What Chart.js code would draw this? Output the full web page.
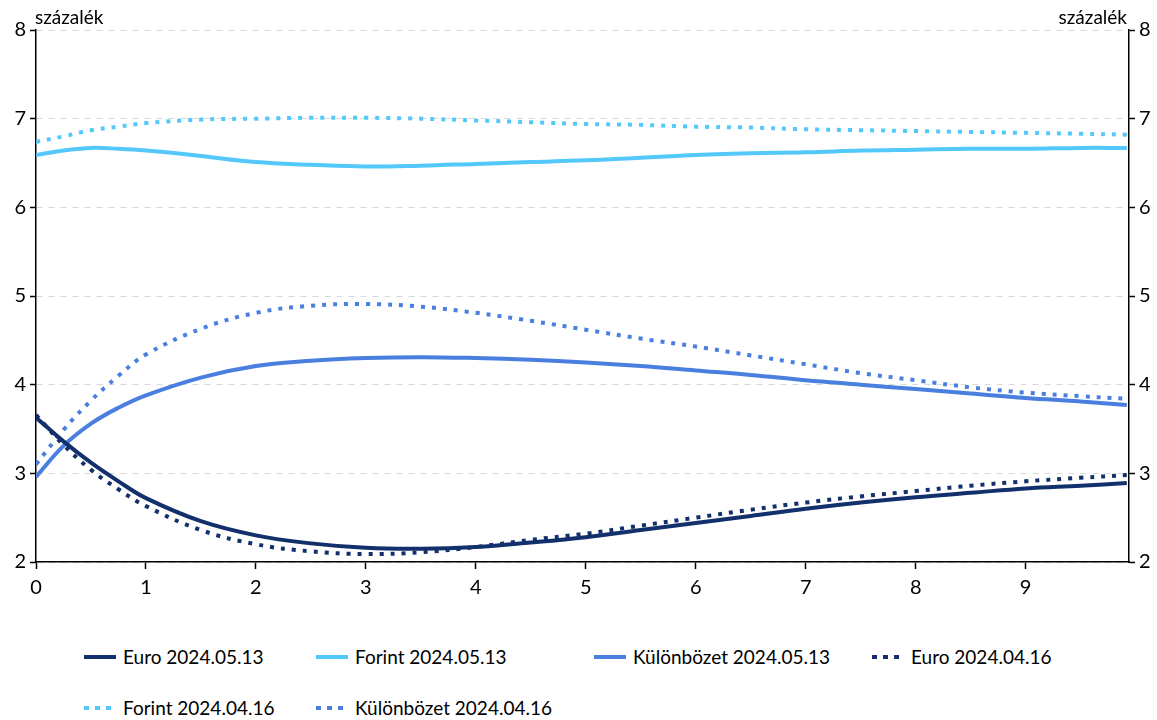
<!DOCTYPE html>
<html>
<head>
<meta charset="utf-8">
<script src="https://cdn.jsdelivr.net/npm/chart.js@4"></script>
<style>
  body { margin: 0; background: #fff; font-family: Lato, "Open Sans", sans-serif; color: #000; }
  #wrap { position: relative; width: 1157px; height: 720px; }
  #chart { position: absolute; left: 0; top: 0; }
  .unit { position: absolute; top: 5px; font-size: 19px; }
  .leg { position: absolute; font-size: 19px; line-height: 22px; white-space: nowrap; }
  .leg i { position: absolute; left: 0; top: 9px; width: 32px; height: 4px; }
  .leg span { position: absolute; left: 39px; top: 0; }
</style>
</head>
<body>
<div id="wrap">
  <canvas id="chart" width="1157" height="610"></canvas>
  <div class="unit" style="left:35px">százalék</div>
  <div class="unit" style="right:30px">százalék</div>
  <div id="legend"></div>
</div>
<script>
// Lejárat (év)
const maturities = [0, 0.25, 0.5, 0.75, 1, 1.5, 2, 2.5, 3, 3.5, 4, 4.5, 5, 5.5, 6, 6.5, 7, 7.5, 8, 8.5, 9, 9.5, 9.92];

// 2024.05.13
const euro0513 = [3.63, 3.36, 3.12, 2.91, 2.72, 2.46, 2.30, 2.21, 2.16, 2.15, 2.17, 2.22, 2.28, 2.36, 2.44, 2.52, 2.60, 2.67, 2.73, 2.78, 2.83, 2.86, 2.89];
const forint0513 = [6.59, 6.64, 6.67, 6.66, 6.64, 6.58, 6.51, 6.48, 6.46, 6.47, 6.49, 6.51, 6.53, 6.56, 6.59, 6.61, 6.62, 6.64, 6.65, 6.66, 6.66, 6.67, 6.67];
const kulonbozet0513 = [2.96, 3.31, 3.56, 3.74, 3.88, 4.08, 4.21, 4.27, 4.30, 4.31, 4.30, 4.28, 4.25, 4.21, 4.16, 4.11, 4.05, 4.00, 3.95, 3.90, 3.85, 3.81, 3.77];

// 2024.04.16
const euro0416 = [3.66, 3.32, 3.04, 2.82, 2.63, 2.36, 2.20, 2.12, 2.09, 2.11, 2.17, 2.25, 2.32, 2.41, 2.50, 2.59, 2.67, 2.74, 2.80, 2.86, 2.91, 2.95, 2.98];
const forint0416 = [6.74, 6.80, 6.87, 6.91, 6.95, 6.99, 7.00, 7.01, 7.01, 7.00, 6.98, 6.96, 6.94, 6.93, 6.91, 6.90, 6.88, 6.87, 6.86, 6.85, 6.84, 6.83, 6.82];
const kulonbozet0416 = [3.10, 3.49, 3.82, 4.10, 4.34, 4.63, 4.81, 4.89, 4.91, 4.88, 4.81, 4.72, 4.62, 4.52, 4.43, 4.33, 4.23, 4.13, 4.05, 3.97, 3.91, 3.87, 3.84];

const xTicks = [0, 1, 2, 3, 4, 5, 6, 7, 8, 9];
const yTicks = [2, 3, 4, 5, 6, 7, 8];

const NAVY = '#12306b';
const CYAN = '#55c8fb';
const BLUE = '#4a7fe0';

const pts = arr => maturities.map((x, i) => ({ x: x, y: arr[i] }));

const series = [
    { label: 'Euro 2024.05.13', data: euro0513, color: NAVY, dotted: false },
    { label: 'Forint 2024.05.13', data: forint0513, color: CYAN, dotted: false },
    { label: 'Különbözet 2024.05.13', data: kulonbozet0513, color: BLUE, dotted: false },
    { label: 'Euro 2024.04.16', data: euro0416, color: NAVY, dotted: true },
    { label: 'Forint 2024.04.16', data: forint0416, color: CYAN, dotted: true },
    { label: 'Különbözet 2024.04.16', data: kulonbozet0416, color: BLUE, dotted: true }
];

const tickFont = { family: 'Lato, "Open Sans", sans-serif', size: 20 };

const yAxis = (pos, width, onChart) => ({
    type: 'linear',
    position: pos,
    min: 2,
    max: 8,
    afterBuildTicks: axis => { axis.ticks = yTicks.map(v => ({ value: v })); },
    afterFit: axis => { axis.width = width; },
    ticks: { color: '#000', font: tickFont, padding: 4 },
    grid: {
        drawOnChartArea: onChart,
        color: '#d9d9d9',
        lineWidth: 1,
        tickColor: '#000',
        tickLength: 6,
        tickWidth: 1.5
    },
    border: { display: true, color: '#000', width: 1.5, dash: [6, 6] }
});

new Chart(document.getElementById('chart'), {
    type: 'line',
    data: {
        datasets: series.map(s => ({
            label: s.label,
            data: pts(s.data),
            borderColor: s.color,
            backgroundColor: s.color,
            borderWidth: 4,
            borderDash: s.dotted ? [4, 7] : [],
            borderCapStyle: 'butt',
            pointRadius: 0,
            tension: 0.4,
            fill: false,
            yAxisID: 'y'
        }))
    },
    options: {
        responsive: false,
        animation: false,
        layout: { padding: { top: 30, left: 0, right: 0, bottom: 0 } },
        plugins: { legend: { display: false }, tooltip: { enabled: false } },
        scales: {
            x: {
                type: 'linear',
                min: 0,
                max: 9.94,
                afterBuildTicks: axis => { axis.ticks = xTicks.map(v => ({ value: v })); },
                afterFit: axis => { axis.height = 48; },
                ticks: { color: '#000', font: tickFont, padding: 7, maxRotation: 0 },
                grid: {
                    drawOnChartArea: false,
                    tickColor: '#000',
                    tickLength: 7,
                    tickWidth: 1.5
                },
                border: { display: true, color: '#000', width: 1.5 }
            },
            y: yAxis('left', 36, true),
            y2: yAxis('right', 28, false)
        }
    }
});

// Jelmagyarázat
const legendPos = [
    [84, 646], [316, 646], [594, 646], [872, 646],
    [84, 697], [316, 697]
];
const $legend = document.getElementById('legend');
series.forEach((s, i) => {
    const item = document.createElement('div');
    item.className = 'leg';
    item.style.left = legendPos[i][0] + 'px';
    item.style.top = legendPos[i][1] + 'px';
    const mark = document.createElement('i');
    mark.style.background = s.dotted
        ? 'repeating-linear-gradient(90deg, ' + s.color + ' 0 5px, transparent 5px 11px)'
        : s.color;
    if (s.dotted) mark.style.width = '27px';
    const txt = document.createElement('span');
    txt.textContent = s.label;
    item.appendChild(mark);
    item.appendChild(txt);
    $legend.appendChild(item);
});
</script>
</body>
</html>
